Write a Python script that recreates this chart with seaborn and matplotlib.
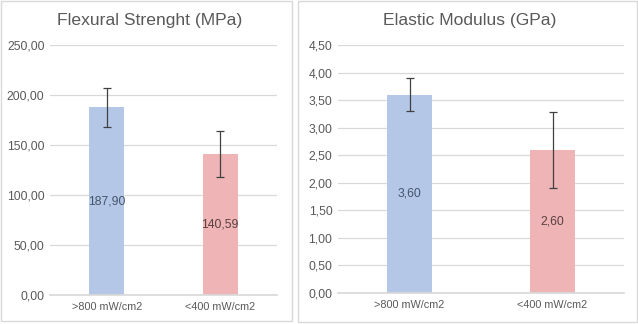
import matplotlib
matplotlib.use("Agg")
import matplotlib.pyplot as plt
import seaborn as sns
from matplotlib.patches import Rectangle
from matplotlib.ticker import FuncFormatter, MultipleLocator

categories = [">800 mW/cm2", "<400 mW/cm2"]
flex_values = [187.90, 140.59]
flex_err = [19.5, 23.0]
flex_labels = ["187,90", "140,59"]
mod_values = [3.60, 2.60]
mod_err = [0.30, 0.69]
mod_labels = ["3,60", "2,60"]
colors = ["#B4C7E7", "#EEB4B6"]

sns.set_theme(style="white")
plt.rcParams['font.family'] = ['Liberation Sans', 'DejaVu Sans']

W, H = 638, 324
fig = plt.figure(figsize=(W / 100, H / 100), dpi=100)
fig.patch.set_facecolor("white")

def fx(px):
    return px / W

def fy(py):
    return 1 - py / H

# panel borders
for (x0, y0, x1, y1) in [(1, 1, 292, 321), (298, 1, 637, 322)]:
    fig.patches.append(Rectangle((fx(x0), fy(y1)), fx(x1 - x0), (y1 - y0) / H,
                                 transform=fig.transFigure, fill=False,
                                 edgecolor="#D9D9D9", linewidth=1.0))

text_col = "#595959"

def make_panel(rect, values, errs, labels, title, ymax, step, title_xy):
    ax = fig.add_axes(rect)
    sns.barplot(x=categories, y=values, hue=categories, palette=colors,
                width=0.31, ax=ax, legend=False, saturation=1, linewidth=0)
    ax.errorbar(range(len(values)), values, yerr=errs, fmt="none",
                ecolor="#404040", elinewidth=0.9, capsize=3, capthick=0.9)
    ax.set_ylim(0, ymax)
    ax.set_xlim(-0.5, 1.5)
    ax.yaxis.set_major_locator(MultipleLocator(step))
    ax.yaxis.set_major_formatter(FuncFormatter(lambda v, p: f"{v:.2f}".replace(".", ",")))
    ax.grid(axis="y", color="#D9D9D9", linewidth=0.9)
    ax.set_axisbelow(True)
    for s in ["top", "right", "left"]:
        ax.spines[s].set_visible(False)
    ax.spines["bottom"].set_color("#D9D9D9")
    ax.tick_params(axis="y", length=0, labelsize=8.7, colors=text_col, pad=4)
    ax.tick_params(axis="x", length=0, labelsize=7.8, colors=text_col, pad=5)
    ax.set_xlabel("")
    ax.set_ylabel("")
    for i, (v, lab) in enumerate(zip(values, labels)):
        ax.text(i, v / 2, lab, ha="center", va="center", fontsize=8.7,
                color="#44546A" if i == 0 else "#5A4040")
    fig.text(fx(title_xy[0]), fy(title_xy[1]), title, ha="center", va="center",
             fontsize=12.6, color=text_col)
    return ax

make_panel([fx(50), fy(295), fx(277 - 50), (295 - 45) / H],
           flex_values, flex_err, flex_labels, "Flexural Strenght (MPa)",
           250, 50, (150, 21))
make_panel([fx(338), fy(293), fx(624 - 338), (293 - 45) / H],
           mod_values, mod_err, mod_labels, "Elastic Modulus (GPa)",
           4.5, 0.5, (470, 21))

fig.savefig("out.png", dpi=100, facecolor="white")
